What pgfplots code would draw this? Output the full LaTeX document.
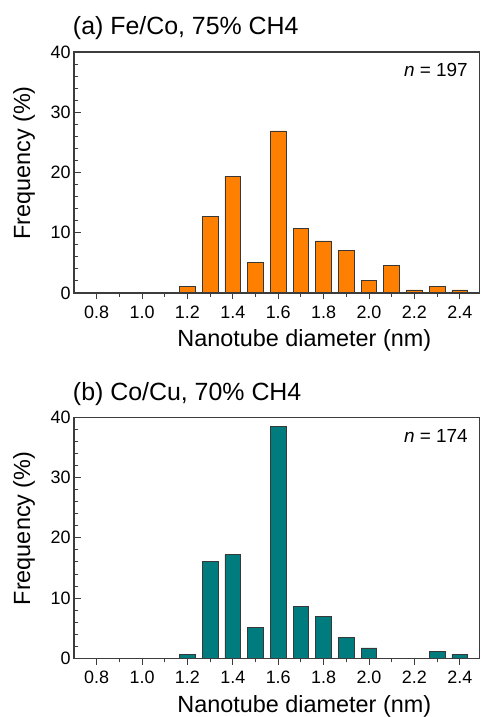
\documentclass[border=0pt]{standalone}
\usepackage{pgfplots}
\pgfplotsset{compat=1.18}
\usepackage{fontspec}
\setmainfont{Liberation Sans}

\definecolor{barorange}{HTML}{FF8000}
\definecolor{barteal}{HTML}{007B7E}
\definecolor{axisgray}{HTML}{3C3C3C}

% shared look of the two diameter histograms
\pgfplotsset{
  diamhist/.style={
    scale only axis, width=405.5bp, height=241bp,
    xmin=0.7, xmax=2.487, ymin=0, ymax=40,
    clip=false, axis on top,
    xtick={0.8,1.0,1.2,1.4,1.6,1.8,2.0,2.2,2.4},
    minor xtick={0.9,1.1,1.3,1.5,1.7,1.9,2.1,2.3},
    ytick={0,10,20,30,40}, minor y tick num=4,
    xtick pos=bottom, ytick pos=left,
    tick align=inside,
    major tick length=6.5bp, minor tick length=4bp,
    axis line style={axisgray, line width=1.1bp},
    every tick/.style={axisgray, line width=0.9bp},
    tick label style={font=\fontsize{18}{20}\selectfont},
    /pgf/number format/assume math mode=true,
    xticklabel style={yshift=-3bp,
      /pgf/number format/fixed, /pgf/number format/fixed zerofill,
      /pgf/number format/precision=1},
    xlabel={Nanotube diameter (nm)},
    ylabel={Frequency (\%)},
    label style={font=\fontsize{23.5}{26}\selectfont},
    xlabel style={at={(axis description cs:0.568,-0.224)}, anchor=base},
    ylabel style={at={(axis description cs:-0.1085,0.539)}, anchor=base},
    ybar, bar width=15.7bp,
  },
  histbar/.style={fill=#1, draw=black!78, line width=0.8bp},
}

\begin{document}
\begin{tikzpicture}
\useasboundingbox (0,0) rectangle (481bp,717bp);

% (a) Fe/Co catalyst, n = 197
\begin{axis}[diamhist, at={(74bp,424bp)}, anchor=south west]
  \addplot[histbar=barorange] coordinates {
    (1.2,1.02) (1.3,12.69) (1.4,19.29) (1.5,5.08) (1.6,26.90)
    (1.7,10.66) (1.8,8.63) (1.9,7.11) (2.0,2.03) (2.1,4.57)
    (2.2,0.51) (2.3,1.02) (2.4,0.51)};
  \node[anchor=base west, inner sep=0pt, yshift=17bp,
        font=\fontsize{25}{28}\selectfont] at (rel axis cs:-0.003,1)
        {(a) Fe/Co, 75\% CH4};
  \node[anchor=base east, inner sep=0pt, yshift=-25bp,
        font=\fontsize{19}{22}\selectfont] at (rel axis cs:0.9716,1)
        {\textit{n} = 197};
\end{axis}

% (b) Co/Cu catalyst, n = 174
\begin{axis}[diamhist, at={(74bp,58.7bp)}, anchor=south west]
  \addplot[histbar=barteal] coordinates {
    (1.2,0.57) (1.3,16.09) (1.4,17.24) (1.5,5.17) (1.6,38.51)
    (1.7,8.62) (1.8,6.90) (1.9,3.45) (2.0,1.72)
    (2.3,1.15) (2.4,0.57)};
  \node[anchor=base west, inner sep=0pt, yshift=17bp,
        font=\fontsize{25}{28}\selectfont] at (rel axis cs:-0.003,1)
        {(b) Co/Cu, 70\% CH4};
  \node[anchor=base east, inner sep=0pt, yshift=-25bp,
        font=\fontsize{19}{22}\selectfont] at (rel axis cs:0.9716,1)
        {\textit{n} = 174};
\end{axis}
\end{tikzpicture}
\end{document}
